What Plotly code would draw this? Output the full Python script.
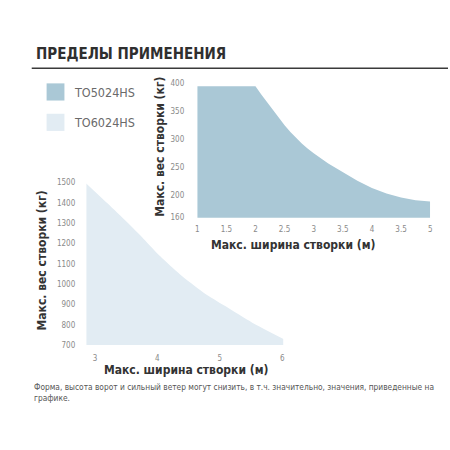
import plotly.graph_objects as go

# ---- data ----
series_names = ["TO5024HS", "TO6024HS"]
colors = ["#AAC8D6", "#E2ECF3"]

# TO5024HS (top chart)
w1 = [1, 2, 2.1, 2.2, 2.3, 2.4, 2.5, 2.6, 2.7, 2.8, 2.9, 3, 3.25, 3.5, 3.75, 4, 4.25, 4.5, 4.75, 5]
kg1 = [395, 395, 380, 366, 352, 338, 325, 313, 302, 292, 283, 275, 257, 241, 226, 213, 203, 196, 191, 189]
x1_ticks = [1, 1.5, 2, 2.5, 3, 3.5, 4, 4.5, 5]
x1_ticktext = ["1", "1.5", "2", "2.5", "3", "3.5", "4", "3.5", "5"]
y1_ticks = [160, 200, 250, 300, 350, 400]

# TO6024HS (bottom chart)
w2 = [2.86, 3.2, 3.52, 3.78, 4.05, 4.36, 4.73, 5.1, 5.52, 6.02]
kg2 = [1495, 1397, 1302, 1222, 1135, 1048, 960, 889, 810, 730]
x2_ticks = [3, 4, 5, 6]
y2_ticks = [700, 800, 900, 1000, 1100, 1200, 1300, 1400, 1500]

title_text = "ПРЕДЕЛЫ ПРИМЕНЕНИЯ"
ytitle = "Макс. вес створки (кг)"
xtitle = "Макс. ширина створки (м)"
footnote = "Форма, высота ворот и сильный ветер могут снизить, в т.ч. значительно, значения, приведенные на<br>графике."

FONT = "DejaVu Sans Condensed, Liberation Sans, sans-serif"
W = H = 450

def px(x):
    return x / W

def py(y):
    return 1 - y / H

fig = go.Figure()

fig.add_trace(go.Scatter(x=w2, y=kg2, mode="lines", fill="tozeroy",
                         fillcolor=colors[1], line=dict(width=0, shape="spline", smoothing=0.6, color=colors[1]),
                         name=series_names[1], xaxis="x", yaxis="y", showlegend=False))
fig.add_trace(go.Scatter(x=w1, y=kg1, mode="lines", fill="tozeroy",
                         fillcolor=colors[0], line=dict(width=0, shape="linear", color=colors[0]),
                         name=series_names[0], xaxis="x2", yaxis="y2", showlegend=False))

tickfont = dict(family=FONT, size=8, color="#8a8a8a")
common = dict(showgrid=False, zeroline=False, showline=False, ticks="", tickfont=tickfont, fixedrange=True)

fig.update_layout(
    width=W, height=H, margin=dict(l=0, r=0, t=0, b=0),
    paper_bgcolor="white", plot_bgcolor="rgba(0,0,0,0)",
    xaxis=dict(domain=[px(85), px(284)], range=[2.86, 6.02], tickvals=x2_ticks,
               anchor="y", ticklabelstandoff=7, **common),
    yaxis=dict(domain=[py(348), py(182)], range=[700, 1500], tickvals=y2_ticks,
               anchor="x", ticklabelstandoff=10, **common),
    xaxis2=dict(domain=[px(197), px(432)], range=[1, 5], tickvals=x1_ticks, ticktext=x1_ticktext,
                anchor="y2", ticklabelstandoff=5, **common),
    yaxis2=dict(domain=[py(218), py(81)], range=[160, 400], tickvals=y1_ticks,
                anchor="x2", ticklabelstandoff=12, **common),
)

ann = []
ann.append(dict(text="<b>" + title_text + "</b>", x=px(32), y=py(51), xref="paper", yref="paper",
                xanchor="left", yanchor="middle", showarrow=False,
                font=dict(family=FONT, size=15, color="#2f2f2f")))
# legend
shapes = [dict(type="line", xref="paper", yref="paper", x0=px(30), x1=1, y0=py(65.5), y1=py(65.5),
               line=dict(color="#3a3a3a", width=1.5))]
for i, (name, c) in enumerate(zip(series_names, colors)):
    top = 81 + i * 31
    shapes.append(dict(type="rect", xref="paper", yref="paper", x0=px(45), x1=px(63),
                       y0=py(top + 17.5), y1=py(top), fillcolor=c, line=dict(width=0)))
    ann.append(dict(text=name, x=px(71), y=py(top + 9), xref="paper", yref="paper",
                    xanchor="left", yanchor="middle", showarrow=False,
                    font=dict(family=FONT, size=12.5, color="#6a6a6a")))
# axis titles
axfont = dict(family=FONT, size=12, color="#333333")
ann.append(dict(text="<b>" + ytitle + "</b>", x=px(160), y=py(146), textangle=-90, xref="paper", yref="paper",
                xanchor="center", yanchor="middle", showarrow=False, font=axfont))
ann.append(dict(text="<b>" + xtitle + "</b>", x=px(294), y=py(246), xref="paper", yref="paper",
                xanchor="center", yanchor="middle", showarrow=False, font=axfont))
ann.append(dict(text="<b>" + ytitle + "</b>", x=px(40), y=py(262), textangle=-90, xref="paper", yref="paper",
                xanchor="center", yanchor="middle", showarrow=False, font=axfont))
ann.append(dict(text="<b>" + xtitle + "</b>", x=px(186), y=py(373), xref="paper", yref="paper",
                xanchor="center", yanchor="middle", showarrow=False, font=axfont))
ann.append(dict(text=footnote, x=px(30), y=py(384), xref="paper", yref="paper", align="left",
                xanchor="left", yanchor="top", showarrow=False,
                font=dict(family=FONT, size=8.3, color="#555555")))

fig.update_layout(annotations=ann, shapes=shapes)
fig.write_html("out.html")
